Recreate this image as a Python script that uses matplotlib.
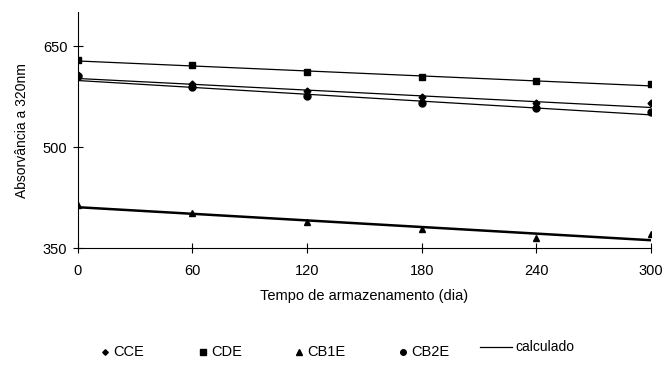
import matplotlib
matplotlib.use("Agg")
import matplotlib.pyplot as plt
from matplotlib.lines import Line2D
import numpy as np

plt.rcParams['font.family'] = ['Liberation Sans', 'DejaVu Sans']

# Data
dias = [0, 60, 120, 180, 240, 300]
cce = [607, 594, 583, 575, 566, 565]
cde = [629, 622, 612, 604, 598, 594]
cb1e = [414, 403, 389, 378, 365, 371]
cb2e = [605, 590, 576, 565, 558, 553]

# "calculado" lines: values at day 0 and day 300
calc_x = [0, 300]
calc_cce = [602, 559]
calc_cde = [628, 591]
calc_cb1e = [411, 362]
calc_cb2e = [599, 548]

series_names = ['CCE', 'CDE', 'CB1E', 'CB2E']
markers = ['D', 's', '^', 'o']
msizes = [3.5, 5, 5, 5]

fig = plt.figure(figsize=(6.65, 3.72), dpi=100)
ax = fig.add_axes([0.117, 0.3325, 0.862, 0.634])

lw = 0.9
ax.plot(calc_x, calc_cde, color='black', lw=lw)
ax.plot(calc_x, calc_cce, color='black', lw=lw)
ax.plot(calc_x, calc_cb2e, color='black', lw=lw)
ax.plot(calc_x, calc_cb1e, color='black', lw=1.8)

for vals, m, s in zip([cce, cde, cb1e, cb2e], markers, msizes):
    ax.plot(dias, vals, ls='none', marker=m, ms=s, color='black')

ax.set_xlim(0, 300)
ax.set_ylim(350, 700)
ax.set_xticks(dias)
ax.set_yticks([350, 500, 650])
ax.spines['top'].set_visible(False)
ax.spines['right'].set_visible(False)
ax.spines['left'].set_linewidth(0.8)
ax.spines['bottom'].set_linewidth(0.8)
ax.tick_params(direction='inout', length=7, width=0.8, labelsize=10.5, pad=4)
ax.tick_params(axis='x', pad=8)
ax.set_xlabel('Tempo de armazenamento (dia)', fontsize=10.5, labelpad=8)
ax.set_ylabel('Absorvância a 320nm', fontsize=10, labelpad=10)

# legend at the bottom, laid out by hand
leg_x = [105, 203, 299, 403]
leg_y = 1 - 352 / 372
for xp, name, m, s in zip(leg_x, series_names, markers, msizes):
    fig.add_artist(Line2D([xp / 665], [leg_y], ls='none', marker=m,
                          ms=s * 0.8, color='black', transform=fig.transFigure))
    fig.text((xp + 8) / 665, leg_y, name, fontsize=10.5, va='center', ha='left')
calc_y = 1 - 347 / 372
fig.add_artist(Line2D([480 / 665, 512 / 665], [calc_y, calc_y], color='black',
                      lw=0.9, transform=fig.transFigure))
fig.text(515 / 665, calc_y, 'calculado', fontsize=10, va='center', ha='left')

fig.savefig('out.png', dpi=100)
